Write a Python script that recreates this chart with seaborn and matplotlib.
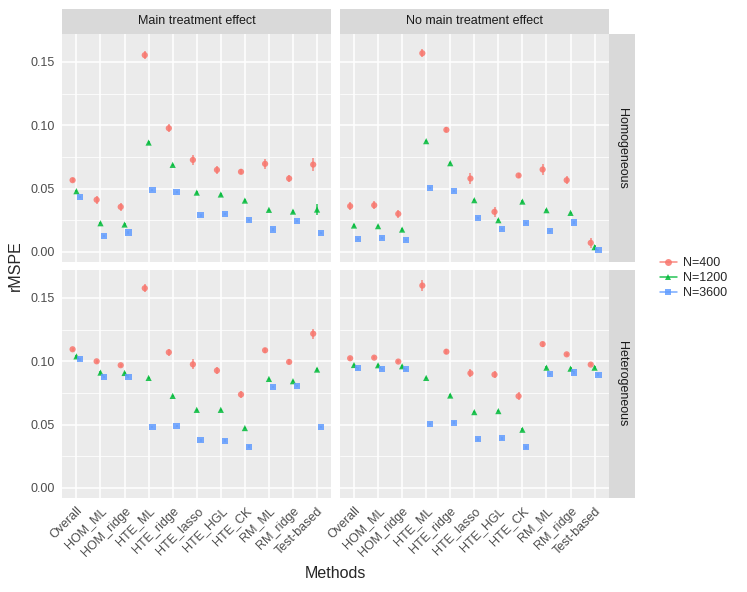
import matplotlib
matplotlib.use("Agg")
import pandas as pd
import matplotlib.pyplot as plt
import seaborn as sns
from matplotlib.patches import Rectangle
from matplotlib.lines import Line2D
from matplotlib.ticker import MultipleLocator

methods = ["Overall", "HOM_ML", "HOM_ridge", "HTE_ML", "HTE_ridge", "HTE_lasso",
           "HTE_HGL", "HTE_CK", "RM_ML", "RM_ridge", "Test-based"]
sizes = ["N=400", "N=1200", "N=3600"]
effects = ["Main treatment effect", "No main treatment effect"]
structures = ["Homogeneous", "Heterogeneous"]

# Main treatment effect / Homogeneous
main_hom_400 = [0.0566, 0.0411, 0.0355, 0.1553, 0.0976, 0.0726, 0.0647, 0.0632, 0.0695, 0.0579, 0.0689]
main_hom_1200 = [0.0479, 0.0226, 0.0216, 0.0863, 0.0687, 0.0468, 0.0453, 0.0405, 0.0332, 0.0318, 0.0334]
main_hom_3600 = [0.0434, 0.0124, 0.0153, 0.0487, 0.0471, 0.0289, 0.0300, 0.0250, 0.0176, 0.0242, 0.0150]
# No main treatment effect / Homogeneous
nomain_hom_400 = [0.0361, 0.0368, 0.0300, 0.1568, 0.0963, 0.0579, 0.0316, 0.0603, 0.0650, 0.0566, 0.0071]
nomain_hom_1200 = [0.0208, 0.0203, 0.0176, 0.0874, 0.0700, 0.0408, 0.0250, 0.0397, 0.0329, 0.0308, 0.0037]
nomain_hom_3600 = [0.0100, 0.0111, 0.0092, 0.0505, 0.0479, 0.0268, 0.0179, 0.0229, 0.0166, 0.0232, 0.0013]
# Main treatment effect / Heterogeneous
main_het_400 = [0.1094, 0.0999, 0.0968, 0.1576, 0.1070, 0.0975, 0.0926, 0.0737, 0.1086, 0.0994, 0.1217]
main_het_1200 = [0.1038, 0.0910, 0.0907, 0.0868, 0.0726, 0.0616, 0.0616, 0.0472, 0.0860, 0.0842, 0.0934]
main_het_3600 = [0.1015, 0.0876, 0.0878, 0.0480, 0.0490, 0.0375, 0.0372, 0.0325, 0.0797, 0.0805, 0.0480]
# No main treatment effect / Heterogeneous
nomain_het_400 = [0.1023, 0.1028, 0.0997, 0.1597, 0.1075, 0.0905, 0.0894, 0.0724, 0.1135, 0.1054, 0.0973]
nomain_het_1200 = [0.0970, 0.0968, 0.0960, 0.0868, 0.0729, 0.0598, 0.0606, 0.0459, 0.0949, 0.0941, 0.0949]
nomain_het_3600 = [0.0944, 0.0939, 0.0936, 0.0503, 0.0514, 0.0383, 0.0391, 0.0320, 0.0899, 0.0910, 0.0894]

# error half-widths
main_hom_400_err = [0.0015, 0.003, 0.003, 0.003, 0.003, 0.004, 0.003, 0.002, 0.004, 0.003, 0.005]
main_hom_1200_err = [0.001, 0.001, 0.001, 0.001, 0.001, 0.001, 0.001, 0.001, 0.001, 0.001, 0.004]
nomain_hom_400_err = [0.003, 0.003, 0.003, 0.003, 0.002, 0.004, 0.004, 0.002, 0.004, 0.003, 0.004]
nomain_hom_1200_err = [0.001, 0.001, 0.001, 0.001, 0.001, 0.001, 0.001, 0.001, 0.001, 0.001, 0.002]
main_het_400_err = [0.001, 0.001, 0.001, 0.003, 0.003, 0.004, 0.003, 0.003, 0.002, 0.002, 0.004]
nomain_het_400_err = [0.001, 0.001, 0.001, 0.004, 0.002, 0.003, 0.003, 0.003, 0.002, 0.001, 0.001]
small_err = [0.001] * len(methods)

palette = {"N=400": "#F8766D", "N=1200": "#00BA38", "N=3600": "#619CFF"}
markers = {"N=400": "o", "N=1200": "^", "N=3600": "s"}
offsets = {"N=400": -0.16, "N=1200": 0.0, "N=3600": 0.16}

panels = [
    (effects[0], structures[0], [main_hom_400, main_hom_1200, main_hom_3600],
     [main_hom_400_err, main_hom_1200_err, small_err]),
    (effects[1], structures[0], [nomain_hom_400, nomain_hom_1200, nomain_hom_3600],
     [nomain_hom_400_err, nomain_hom_1200_err, small_err]),
    (effects[0], structures[1], [main_het_400, main_het_1200, main_het_3600],
     [main_het_400_err, small_err, small_err]),
    (effects[1], structures[1], [nomain_het_400, nomain_het_1200, nomain_het_3600],
     [nomain_het_400_err, small_err, small_err]),
]

rows = []
for eff, struct, vals, errs in panels:
    for n, v, e in zip(sizes, vals, errs):
        for i, (m, y, err) in enumerate(zip(methods, v, e)):
            rows.append(dict(effect=eff, structure=struct, N=n, method=m,
                             pos=i + offsets[n], rmspe=y, err=err))
df = pd.DataFrame(rows)

sns.set_theme(style="darkgrid", rc={
    "axes.facecolor": "#EBEBEB", "grid.color": "white",
    "axes.edgecolor": "#EBEBEB",
})
plt.rcParams["font.family"] = ["Liberation Sans", "DejaVu Sans"]

fig, axes = plt.subplots(2, 2, figsize=(7.47, 5.92), dpi=100, sharex=True, sharey=True)
fig.subplots_adjust(left=0.083, right=0.8153, bottom=0.1588, top=0.9426,
                    wspace=0.03, hspace=0.035)

for r, struct in enumerate(structures):
    for c, eff in enumerate(effects):
        ax = axes[r, c]
        sub = df[(df.effect == eff) & (df.structure == struct)]
        for n in sizes:
            s = sub[sub.N == n]
            ax.errorbar(s.pos, s.rmspe, yerr=s.err, fmt="none",
                        ecolor=palette[n], elinewidth=1.1, alpha=0.85, zorder=2)
        sns.scatterplot(data=sub, x="pos", y="rmspe", hue="N", style="N",
                        hue_order=sizes, style_order=sizes, palette=palette,
                        markers=markers, s=20, linewidth=0, alpha=0.85,
                        legend=False, ax=ax, zorder=3)
        ax.set_xlim(-0.6, 10.6)
        ax.set_ylim(-0.008, 0.172)
        ax.set_xticks(range(len(methods)))
        ax.set_xticklabels(methods, rotation=45, ha="right", rotation_mode="anchor",
                           fontsize=9, color="#4D4D4D")
        ax.set_yticks([0.0, 0.05, 0.10, 0.15])
        ax.set_yticklabels(["0.00", "0.05", "0.10", "0.15"], fontsize=9, color="#4D4D4D")
        ax.yaxis.set_minor_locator(MultipleLocator(0.025))
        ax.grid(which="major", color="white", linewidth=1.1)
        ax.grid(which="minor", axis="y", color="white", linewidth=0.55)
        ax.set_xlabel("")
        ax.set_ylabel("")
        ax.tick_params(axis="both", which="major", length=3, width=0.8,
                       color="#333333", pad=2)
        ax.tick_params(axis="both", which="minor", length=0)
        for sp in ax.spines.values():
            sp.set_visible(False)
        if r == 0:
            ax.add_patch(Rectangle((0, 1.0), 1, 0.11, transform=ax.transAxes,
                                   facecolor="#D9D9D9", edgecolor="none", clip_on=False))
            ax.text(0.5, 1.055, eff, transform=ax.transAxes, ha="center", va="center",
                    fontsize=9, color="#1A1A1A")
        if c == 1:
            ax.add_patch(Rectangle((1.0, 0), 0.096, 1, transform=ax.transAxes,
                                   facecolor="#D9D9D9", edgecolor="none", clip_on=False))
            ax.text(1.048, 0.5, struct, transform=ax.transAxes, ha="center", va="center",
                    rotation=-90, fontsize=9, color="#1A1A1A")
        if r == 0:
            ax.tick_params(axis="x", length=0)
        if c == 1:
            ax.tick_params(axis="y", length=0)

fig.text(0.02, 0.5507, "rMSPE", rotation=90, ha="center", va="center", fontsize=11.5)
fig.text(0.449, 0.032, "Methods", ha="center", va="center", fontsize=11.5)

handles = [Line2D([0], [0], color=palette[n], marker=markers[n], markersize=5,
                  linewidth=1.1, alpha=0.85, markeredgewidth=0) for n in sizes]
fig.legend(handles, sizes, loc="center left", bbox_to_anchor=(0.868, 0.53),
           frameon=False, fontsize=9, handlelength=1.4, handletextpad=0.5,
           labelspacing=0.25)

fig.savefig("out.png", dpi=100)
